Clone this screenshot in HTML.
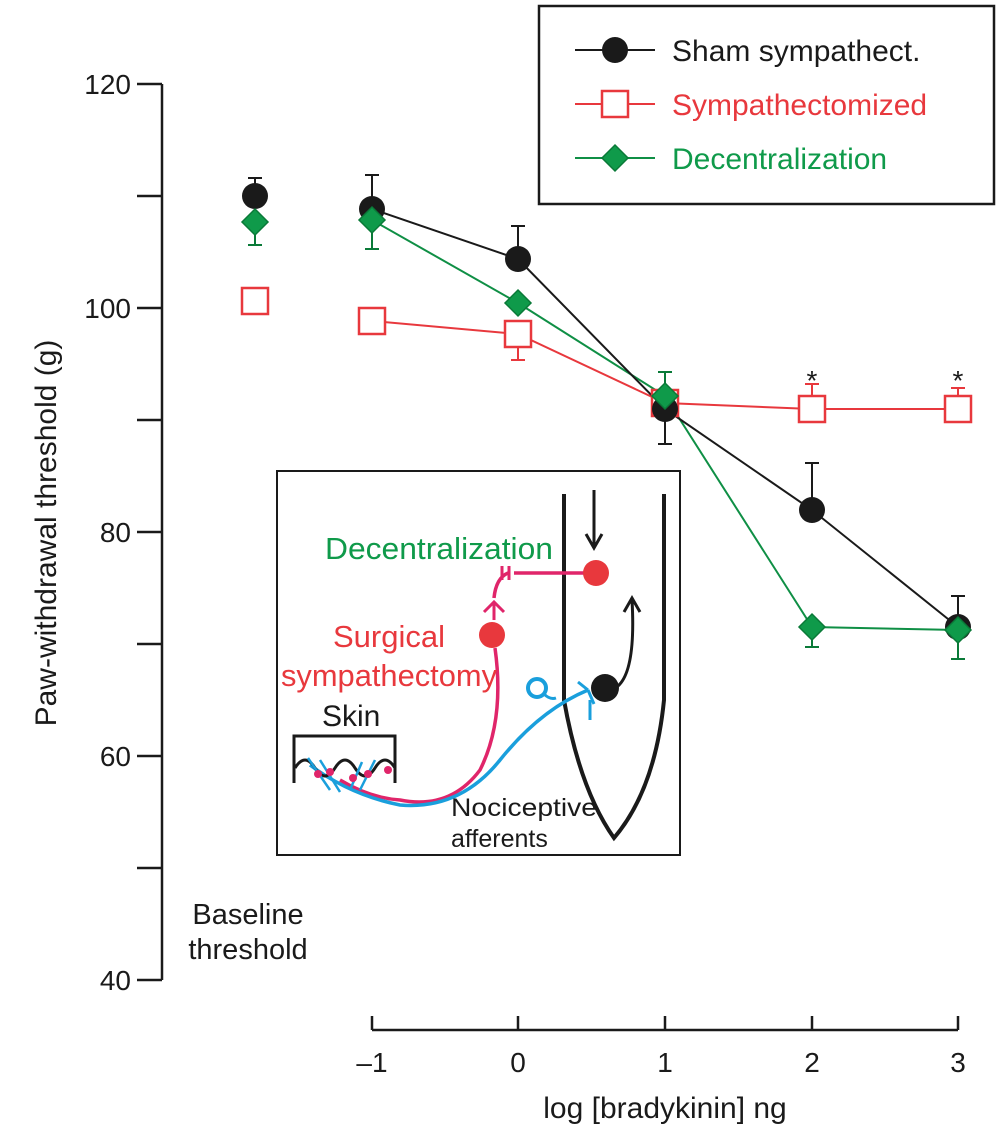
<!DOCTYPE html>
<html><head><meta charset="utf-8"><style>body{margin:0;background:#fff}svg{display:block}text{font-family:"Liberation Sans",Arial,sans-serif}</style></head>
<body>
<svg width="998" height="1137" viewBox="0 0 998 1137" xmlns="http://www.w3.org/2000/svg">
<g stroke="#1a1a1a" stroke-width="2.5" fill="none">
<line x1="162" y1="84" x2="162" y2="980"/>
<line x1="137" y1="84" x2="162" y2="84"/>
<line x1="137" y1="196" x2="162" y2="196"/>
<line x1="137" y1="308" x2="162" y2="308"/>
<line x1="137" y1="420" x2="162" y2="420"/>
<line x1="137" y1="532" x2="162" y2="532"/>
<line x1="137" y1="644" x2="162" y2="644"/>
<line x1="137" y1="756" x2="162" y2="756"/>
<line x1="137" y1="868" x2="162" y2="868"/>
<line x1="137" y1="980" x2="162" y2="980"/>
<line x1="372" y1="1030" x2="958" y2="1030"/>
<line x1="372" y1="1016" x2="372" y2="1030"/>
<line x1="518" y1="1016" x2="518" y2="1030"/>
<line x1="665" y1="1016" x2="665" y2="1030"/>
<line x1="812" y1="1016" x2="812" y2="1030"/>
<line x1="958" y1="1016" x2="958" y2="1030"/>
</g>
<g font-size="28" fill="#1a1a1a" text-anchor="end">
<text x="131" y="94">120</text><text x="131" y="318">100</text><text x="131" y="542">80</text><text x="131" y="766">60</text><text x="131" y="990">40</text>
</g>
<g font-size="28" fill="#1a1a1a" text-anchor="middle">
<text x="372" y="1072">–1</text><text x="518" y="1072">0</text><text x="665" y="1072">1</text><text x="812" y="1072">2</text><text x="958" y="1072">3</text>
<text x="665" y="1118" font-size="30">log [bradykinin] ng</text>
<text x="248" y="924" font-size="29">Baseline</text><text x="248" y="959" font-size="29">threshold</text>
<text x="812" y="390">*</text><text x="958" y="390">*</text>
</g>
<text transform="translate(56,533) rotate(-90)" font-size="30" fill="#1a1a1a" text-anchor="middle">Paw-withdrawal threshold (g)</text>

<rect x="539" y="6" width="455" height="198" fill="#fff" stroke="#1a1a1a" stroke-width="2.5"/>
<line x1="575" y1="50" x2="655" y2="50" stroke="#1a1a1a" stroke-width="2"/><circle cx="615" cy="50" r="13" fill="#1a1a1a"/>
<line x1="575" y1="104" x2="655" y2="104" stroke="#e8383d" stroke-width="2"/><rect x="602" y="91" width="26" height="26" fill="#fff" stroke="#e8383d" stroke-width="2.5"/>
<line x1="575" y1="158" x2="655" y2="158" stroke="#0f8f45" stroke-width="2"/><polygon points="615,145 628,158 615,171 602,158" fill="#0f9a4a" stroke="#0a7a38" stroke-width="1.5"/>
<text x="672" y="61" font-size="30" fill="#1a1a1a">Sham sympathect.</text>
<text x="672" y="115" font-size="30" fill="#e8383d">Sympathectomized</text>
<text x="672" y="169" font-size="30" fill="#0f9a4a">Decentralization</text>

<g stroke-width="2" fill="none">
<g stroke="#1a1a1a">
<path d="M255 196V178M248 178H262"/><path d="M372 209V175M365 175H379"/><path d="M518 259V226M511 226H525"/><path d="M665 409V444M658 444H672"/><path d="M812 510V463M805 463H819"/><path d="M958 627V596M951 596H965"/>
</g>
<g stroke="#0a7a38">
<path d="M255 222V245M248 245H262"/><path d="M372 220V249M365 249H379"/><path d="M665 396V372M658 372H672"/><path d="M812 627V647M805 647H819"/><path d="M958 630V659M951 659H965"/>
</g>
<g stroke="#e8383d">
<path d="M518 334V360M511 360H525"/><path d="M812 409V384M805 384H819"/><path d="M958 409V388M951 388H965"/>
</g>
</g>
<polyline points="372,321 518,334 665,403 812,409 958,409" fill="none" stroke="#e8383d" stroke-width="2"/>
<polyline points="372,220 518,303 665,396 812,627 958,630" fill="none" stroke="#0f8f45" stroke-width="2"/>
<polyline points="372,209 518,259 665,409 812,510 958,627" fill="none" stroke="#1a1a1a" stroke-width="2"/>
<g fill="#fff" stroke="#e8383d" stroke-width="2.5">
<rect x="242" y="288" width="26" height="26"/><rect x="359" y="308" width="26" height="26"/><rect x="505" y="321" width="26" height="26"/><rect x="652" y="390" width="26" height="26"/><rect x="799" y="396" width="26" height="26"/><rect x="945" y="396" width="26" height="26"/>
</g>
<g fill="#1a1a1a">
<circle cx="255" cy="196" r="13"/><circle cx="372" cy="209" r="13"/><circle cx="518" cy="259" r="13"/><circle cx="665" cy="409" r="13"/><circle cx="812" cy="510" r="13"/><circle cx="958" cy="627" r="13"/>
</g>
<g fill="#0f9a4a" stroke="#0a7a38" stroke-width="1.5">
<polygon points="255,209 268,222 255,235 242,222"/><polygon points="372,207 385,220 372,233 359,220"/><polygon points="518,290 531,303 518,316 505,303"/><polygon points="665,383 678,396 665,409 652,396"/><polygon points="812,614 825,627 812,640 799,627"/><polygon points="958,617 971,630 958,643 945,630"/>
</g>

<rect x="277" y="471" width="403" height="384" fill="#fff" stroke="#1a1a1a" stroke-width="2"/>
<path d="M564 494 V700 Q580 790 614 838 Q655 790 664 700 V494" fill="none" stroke="#1a1a1a" stroke-width="4"/>
<path d="M594 490V548M586 534L594 548L602 534" fill="none" stroke="#1a1a1a" stroke-width="3"/>
<path d="M618 686 Q636 670 632 600M624 612L632 598L640 612" fill="none" stroke="#1a1a1a" stroke-width="3"/>
<circle cx="605" cy="688" r="14" fill="#1a1a1a"/>
<path d="M514 573 H595" stroke="#e0256a" stroke-width="3.5" fill="none"/>
<path d="M508 573 Q496 578 494 598" stroke="#e0256a" stroke-width="3.5" fill="none"/>
<path d="M502 566V580M509 566V580" stroke="#e0256a" stroke-width="3"/>
<path d="M484 612L494 602L504 612M494 602V620" stroke="#e0256a" stroke-width="3" fill="none"/>
<circle cx="596" cy="573" r="13" fill="#e8383d"/>
<circle cx="492" cy="635" r="13" fill="#e8383d"/>
<path d="M495 648 Q505 720 480 770 Q450 810 400 800 Q370 798 340 780" stroke="#e0256a" stroke-width="3.5" fill="none"/>
<path d="M590 700 L590 720" stroke="#1a9fdc" stroke-width="3"/>
<path d="M588 690 Q540 710 500 760 Q460 810 400 805 Q350 795 310 765" stroke="#1a9fdc" stroke-width="3.5" fill="none"/>
<path d="M588 690 L578 682M588 690 L594 704" stroke="#1a9fdc" stroke-width="3" fill="none"/>
<circle cx="537" cy="688" r="9" fill="none" stroke="#1a9fdc" stroke-width="4"/>
<path d="M544 694 Q550 700 556 698" stroke="#1a9fdc" stroke-width="3" fill="none"/>
<path d="M294 783 V736 H395 V783" stroke="#1a1a1a" stroke-width="3" fill="none"/>
<path d="M295 768 Q305 752 315 768 T335 768 T355 768 T375 768 T395 768" stroke="#1a1a1a" stroke-width="3" fill="none"/>
<path d="M308 758 L330 790M320 760 L340 792M362 762 L350 790M375 760 L360 790" stroke="#1a9fdc" stroke-width="2.5"/>
<g fill="#e0256a"><circle cx="318" cy="774" r="4"/><circle cx="330" cy="772" r="4"/><circle cx="353" cy="778" r="4"/><circle cx="368" cy="774" r="4"/><circle cx="388" cy="770" r="4"/></g>
<text x="325" y="559" font-size="31" fill="#0f9a4a" textLength="228" lengthAdjust="spacingAndGlyphs">Decentralization</text>
<text x="333" y="647" font-size="31" fill="#e8383d">Surgical</text>
<text x="281" y="686" font-size="31" fill="#e8383d" textLength="216" lengthAdjust="spacingAndGlyphs">sympathectomy</text>
<text x="322" y="726" font-size="30" fill="#1a1a1a">Skin</text>
<text x="451" y="816" font-size="25" fill="#1a1a1a" textLength="146" lengthAdjust="spacingAndGlyphs">Nociceptive</text>
<text x="451" y="847" font-size="25" fill="#1a1a1a">afferents</text>
</svg>
</body></html>
